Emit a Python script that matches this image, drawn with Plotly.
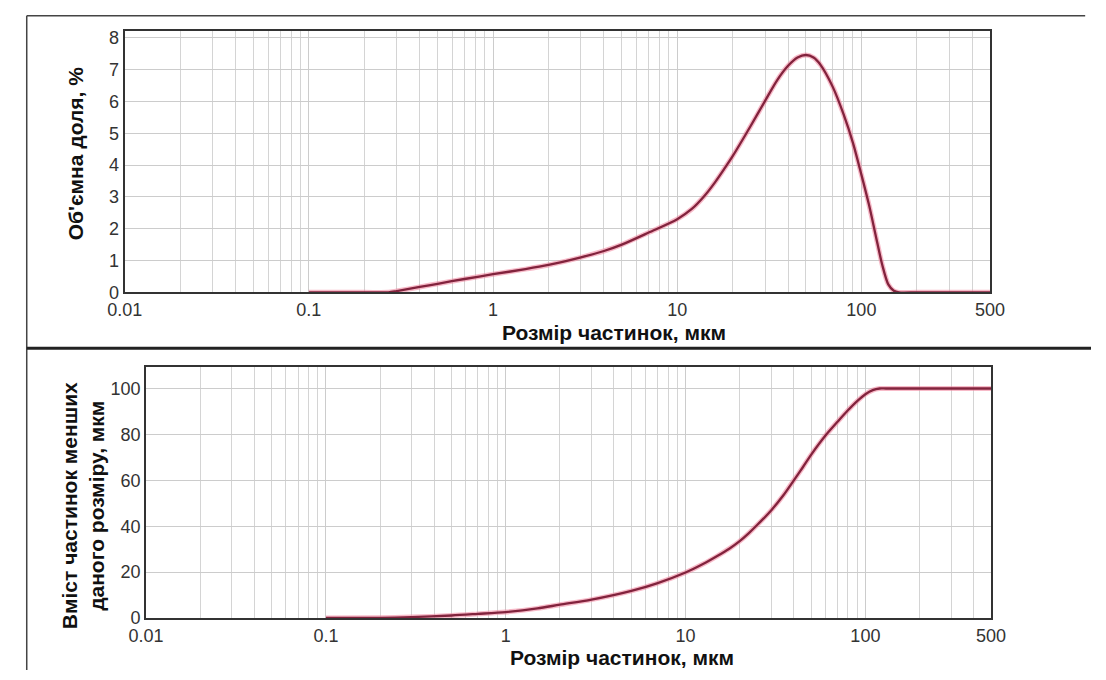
import plotly.graph_objects as go

# ---- data ----
size_dist = [0.1, 0.2, 0.27, 0.3, 0.4, 0.5, 0.7, 1, 1.5, 2, 3, 4, 5, 7, 10, 12, 14, 16, 18,
             20, 25, 30, 35, 40, 45, 50, 55, 60, 70, 80, 90, 100, 110, 120, 130, 140, 150,
             160, 200, 300, 500]
vol_frac = [0, 0, 0, 0.04, 0.17, 0.27, 0.42, 0.57, 0.73, 0.86, 1.1, 1.3, 1.5, 1.88, 2.3,
            2.62, 3.02, 3.45, 3.88, 4.28, 5.22, 6.02, 6.68, 7.12, 7.38, 7.46, 7.38, 7.15,
            6.45, 5.6, 4.7, 3.7, 2.75, 1.75, 0.85, 0.25, 0.05, 0, 0, 0, 0]

size_cum = [0.1, 0.2, 0.3, 0.5, 0.7, 1, 1.5, 2, 3, 5, 7, 10, 12.5, 15, 17.5, 20, 22.5, 25,
            30, 35, 40, 45, 50, 60, 70, 80, 90, 100, 110, 120, 130, 200, 300, 500]
cum_frac = [0, 0.1, 0.4, 1.1, 1.8, 2.6, 4.2, 5.8, 8.0, 11.8, 15.2, 19.8, 23.5, 27, 30.2,
            33.5, 37, 40.5, 47, 53.5, 60, 65.8, 71.2, 79.5, 85.5, 90.5, 94.5, 97.5, 99.3, 100,
            100, 100, 100, 100]

x_tickvals = [0.01, 0.1, 1, 10, 100, 500]
x_ticktext = ["0.01", "0.1", "1", "10", "100", "500"]
minor_vals = [m * 10 ** e for e in range(-2, 3) for m in range(2, 10) if m * 10 ** e < 500]

x_title = "Розмір частинок, мкм"
y1_title = "Об'ємна доля, %"
y2_title = "Вміст частинок менших<br>даного розміру, мкм"

W, H = 1106, 680
LINE = "#82233d"
HALO = "rgba(240,130,155,0.55)"
FONT = "Liberation Sans, Arial, sans-serif"

fig = go.Figure()
for xs, ys, ax in [(size_dist, vol_frac, ("x", "y")), (size_cum, cum_frac, ("x2", "y2"))]:
    fig.add_trace(go.Scatter(x=xs, y=ys, mode="lines",
                             line=dict(color=HALO, width=5, shape="spline", smoothing=0.8),
                             xaxis=ax[0], yaxis=ax[1], hoverinfo="skip", showlegend=False))
    fig.add_trace(go.Scatter(x=xs, y=ys, mode="lines",
                             line=dict(color=LINE, width=2.3, shape="spline", smoothing=0.8),
                             xaxis=ax[0], yaxis=ax[1], showlegend=False))


def px(x):
    return x / W


def py(y):
    return 1 - y / H


xaxis_common = dict(
    type="log", range=[-2, 2.69897], tickvals=x_tickvals, ticktext=x_ticktext,
    showgrid=True, gridcolor="#cccccc", gridwidth=1,
    minor=dict(tickvals=minor_vals, showgrid=True, gridcolor="#d4d4d4", gridwidth=1, ticklen=0),
    showline=True, linecolor="#333333", linewidth=2, mirror=True,
    ticks="", tickfont=dict(family=FONT, size=18, color="#333333"), zeroline=False,
)
yaxis_common = dict(
    showgrid=True, gridcolor="#cccccc", gridwidth=1,
    showline=True, linecolor="#333333", linewidth=2, mirror=True,
    ticks="", tickfont=dict(family=FONT, size=18, color="#333333"), zeroline=False,
)

fig.update_layout(
    width=W, height=H, margin=dict(l=0, r=0, t=0, b=0),
    paper_bgcolor="white", plot_bgcolor="white",
    xaxis=dict(**xaxis_common, domain=[px(110), px(1002)], anchor="y"),
    yaxis=dict(**yaxis_common, domain=[py(295), py(29)], range=[0, 8.2], dtick=1, anchor="x"),
    xaxis2=dict(**xaxis_common, domain=[px(132), px(1003)], anchor="y2"),
    yaxis2=dict(**yaxis_common, domain=[py(627), py(371)], range=[0, 109.4], dtick=20, anchor="x2"),
    font=dict(family=FONT),
)

title_font = dict(family=FONT, size=21, color="#111111")
fig.add_annotation(text=f"<b>{x_title}</b>", x=px(614), y=py(336), xref="paper", yref="paper",
                   showarrow=False, font=title_font, xanchor="center", yanchor="middle")
fig.add_annotation(text=f"<b>{x_title}</b>", x=px(623), y=py(667), xref="paper", yref="paper",
                   showarrow=False, font=title_font, xanchor="center", yanchor="middle")
fig.add_annotation(text=f"<b>{y1_title}</b>", x=px(59), y=py(153), xref="paper", yref="paper",
                   showarrow=False, font=title_font, textangle=-90, xanchor="center", yanchor="middle")
fig.add_annotation(text=f"<b>{y2_title}</b>", x=px(67), y=py(513), xref="paper", yref="paper",
                   showarrow=False, font=title_font, textangle=-90, xanchor="center", yanchor="middle")

# outer frame lines
fig.add_shape(type="line", xref="paper", yref="paper", x0=px(9), x1=px(1100), y0=py(13), y1=py(13),
              line=dict(color="#444444", width=1.5))
fig.add_shape(type="line", xref="paper", yref="paper", x0=px(9), x1=px(9), y0=py(13), y1=0,
              line=dict(color="#444444", width=1.5))
fig.add_shape(type="line", xref="paper", yref="paper", x0=px(9), x1=1, y0=py(352), y1=py(352),
              line=dict(color="#222222", width=3))

fig.write_html("out.html", post_script="document.body.style.margin='0';")
